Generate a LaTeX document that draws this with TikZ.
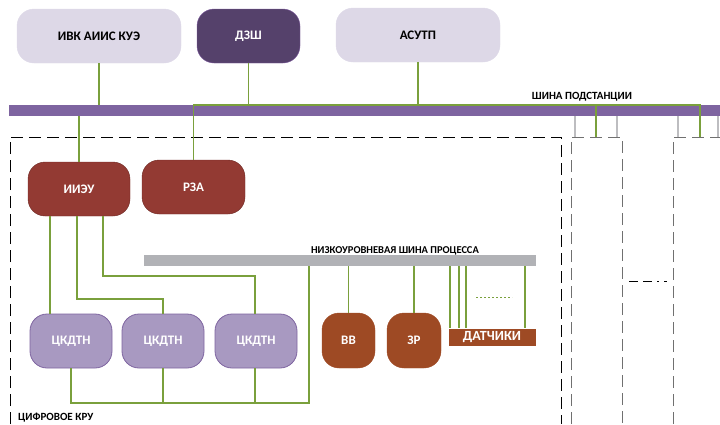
\documentclass[tikz,border=0pt]{standalone}
\usepackage{fontspec}
\setmainfont{Carlito}
\begin{document}
\begin{tikzpicture}[x=1pt,y=-1pt,
  box/.style={rounded corners=17pt,minimum width=#1,inner sep=0pt,font=\bfseries\fontsize{13}{14}\selectfont},
  lav/.style={box=#1,minimum height=54pt,fill=lavfill,draw=lavfill},
  dzs/.style={box=#1,minimum height=54pt,fill=dzsfill,draw=dzsdraw,text=white},
  red/.style={box=#1,minimum height=54pt,fill=redfill,draw=reddraw,text=white},
  cdt/.style={box=#1,minimum height=54pt,fill=cdtfill,draw=cdtdraw,line width=0.8pt,text=white},
  brn/.style={box=#1,minimum height=55pt,fill=brnfill,draw=brnfill,text=white},
  bus/.style={rectangle,inner sep=0pt,minimum height=11pt,minimum width=#1},
  gl/.style={draw=grn,line width=1.7pt},
  gr/.style={draw=greyln,line width=1.5pt},
  dsh/.style={line width=1pt,dash pattern=on 12pt off 6pt},
  lbl/.style={font=\bfseries\fontsize{11}{12}\selectfont,inner sep=0pt}
]
\definecolor{lavfill}{HTML}{DDD8E7}
\definecolor{dzsfill}{HTML}{55416B}
\definecolor{dzsdraw}{HTML}{7D5A9E}
\definecolor{busp}{HTML}{7E64A0}
\definecolor{grn}{HTML}{7AA03C}
\definecolor{redfill}{HTML}{933A33}
\definecolor{reddraw}{HTML}{6E2A25}
\definecolor{cdtfill}{HTML}{A899C1}
\definecolor{cdtdraw}{HTML}{7E64A0}
\definecolor{brnfill}{HTML}{9E4A24}
\definecolor{busg}{HTML}{B1B2B6}
\definecolor{greyln}{HTML}{BDBDC0}
\definecolor{dgrey}{HTML}{707070}
\useasboundingbox (0,0) rectangle (720,424);

% top systems
\node[lav=164pt] (ivk) at (99,36) {ИВК АИИС КУЭ};
\node[dzs=103pt] (dzs) at (248.5,36) {ДЗШ};
\node[lav=164pt] (asu) at (418,35) {АСУТП};

% substation bus
\node[bus=711pt,fill=busp] (sbus) at (364.5,110.5) {};
\node[lbl] (sbusl) at (582,97) {ШИНА ПОДСТАНЦИИ};

% dashed enclosures
\coordinate (b1a) at (10,424); \coordinate (b1b) at (10,137);
\coordinate (b1c) at (561,137); \coordinate (b1d) at (561,424);
\draw[dsh,black] (b1a) -- (b1b) -- (b1c) -- (b1d);
\coordinate (b2a) at (571,424); \coordinate (b2b) at (571,137);
\coordinate (b2c) at (622,137); \coordinate (b2d) at (622,424);
\draw[dsh,dgrey] (b2a) -- (b2b) -- (b2c) -- (b2d);
\coordinate (b3a) at (673,424); \coordinate (b3b) at (673,137);
\coordinate (b3c) at (720,137);
\draw[dsh,dgrey] (b3a) -- (b3b) -- (b3c);
\coordinate (m1) at (629,281); \coordinate (m2) at (667,281);
\draw[line width=1pt,black,dash pattern=on 9pt off 5pt on 9pt off 5pt on 2pt off 5pt] (m1) -- (m2);

% grey drops from bus
\foreach \x [count=\i] in {575,617,678,718}{
  \coordinate (gd\i) at (\x,137);
  \draw[gr] (gd\i |- sbus.south) -- (gd\i);
}

% bay devices
\node[red=102pt] (iieu) at (79,189) {ИИЭУ};
\node[red=103pt] (rza) at (193.5,187) {РЗА};

% process bus
\node[bus=392pt,fill=busg] (pbus) at (340,260.5) {};
\node[lbl,font=\bfseries\fontsize{10.5}{11}\selectfont] (pbusl) at (395,251) {НИЗКОУРОВНЕВАЯ ШИНА ПРОЦЕССА};

\node[cdt=82pt] (c1) at (71,341) {ЦКДТН};
\node[cdt=82pt] (c2) at (163,341) {ЦКДТН};
\node[cdt=82pt] (c3) at (256,341) {ЦКДТН};
\node[brn=53pt] (vv) at (348.5,340.5) {ВВ};
\node[brn=54pt] (zr) at (414,340.5) {ЗР};
\node[rectangle,fill=brnfill,draw=white,line width=0.6pt,minimum width=88pt,minimum height=18pt,inner sep=0pt,text=white,font=\bfseries\fontsize{14}{14}\selectfont] (dat) at (492,337) {ДАТЧИКИ};

% green connections (top)
\draw[gl] (ivk.south) -- (ivk.south |- sbus.north);
\coordinate (gn1) at (596,137); \coordinate (gn2) at (700,137);
\draw[gl] (dzs.south) -- (dzs.south |- sbus.north);
\draw[gl] (asu.south) -- (asu.south |- sbus.north);
\draw[gl] (rza.north) -- (rza.north |- sbus.north) -- (gn2 |- sbus.north) -- (gn2);
\draw[gl] (gn1 |- sbus.north) -- (gn1);
\draw[gl] (iieu.north) -- (iieu.north |- sbus.south);

% iieu to merging units
\draw[gl] (50,216) -- (c1.north -| 50,0);
\draw[gl] (77,216) -- (77,299) -- (163,299) -- (c2.north);
\draw[gl] (103,216) -- (103,276) -- (255,276) -- (c3.north -| 255,0);

% bottom ring to process bus
\coordinate (bl) at (309,403);
\draw[gl] (c1.south) -- (71,403) -- (bl) -- (bl |- pbus.south);
\draw[gl] (c2.south) -- (163,403);
\draw[gl] (c3.south -| 255,0) -- (255,403);
\draw[gl] (vv.north) -- (vv.north |- pbus.south);
\draw[gl] (zr.north) -- (zr.north |- pbus.south);
\foreach \x in {450,459,466,525}{
  \draw[gl] (\x,266) -- (dat.north -| \x,0);
}
\coordinate (dt1) at (476,297); \coordinate (dt2) at (512,297);
\draw[grn,line width=1pt,dash pattern=on 2pt off 2pt] (dt1) -- (dt2);

\node[lbl,anchor=west] (kru) at (18,418) {ЦИФРОВОЕ КРУ};
\end{tikzpicture}
\end{document}
